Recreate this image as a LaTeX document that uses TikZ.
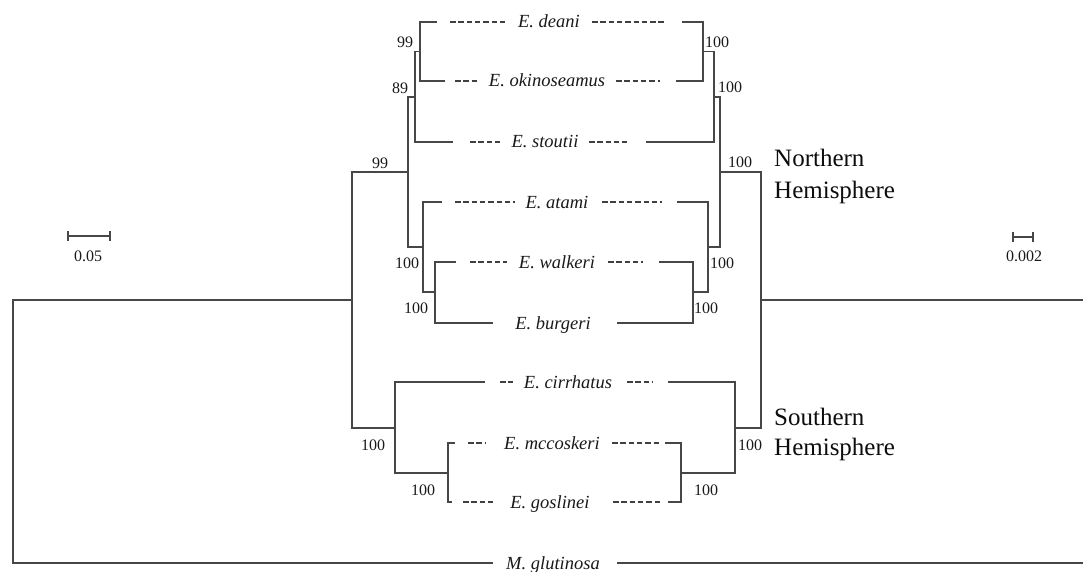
\documentclass[tikz,border=0pt]{standalone}
\usepackage{fontspec}
\setmainfont{Liberation Serif}
\newcommand\mkleaf[8]{% name, y, dash1 start, dash1 end, text x, dash2 start, dash2 end, text
  \node[sp] (t#1) at (#5,#2+6) {#8};
  \coordinate (#1a) at (#3,#2);
  \coordinate (#1b) at (#4,#2);
  \coordinate (#1c) at (#6,#2);
  \coordinate (#1d) at (#7,#2);
  \draw[dsh] (#1a) -- (#1b);
  \draw[dsh] (#1c) -- (#1d);
}
\begin{document}
\begin{tikzpicture}[x=1pt,y=-1pt,
  br/.style={draw=black!72, line width=1.3pt},
  dsh/.style={draw=black!75, line width=1.1pt, dash pattern=on 5.5pt off 2.8pt},
  sp/.style={font=\fontsize{18.5}{20}\selectfont\itshape, text=black!90, inner sep=0pt, anchor=base},
  bs/.style={font=\fontsize{16}{18}\selectfont, text=black!90, inner sep=0pt},
  hem/.style={font=\fontsize{25}{30}\selectfont, text=black!95, inner sep=0pt, anchor=base west}]
\useasboundingbox (0,0) rectangle (1083,572);

% ---------- leaf end coordinates (left tree) ----------
\coordinate (Ldea) at (437,22);
\coordinate (Lok)  at (445,81);
\coordinate (Lsto) at (453,142);
\coordinate (Lat)  at (442,202);
\coordinate (Lwal) at (456,262);
\coordinate (Lbur) at (493,323);
\coordinate (Lcir) at (485,382);
\coordinate (Lmcc) at (455,443);
\coordinate (Lgos) at (452,502);
\coordinate (Lglu) at (493,563);
% internal nodes (left)
\coordinate (LA)  at (420,51.5);
\coordinate (LB)  at (415,97);
\coordinate (LD)  at (435,292);
\coordinate (LC)  at (423,247);
\coordinate (LN)  at (408,172);
\coordinate (LS2) at (448,473);
\coordinate (LS)  at (395,428);
\coordinate (LR)  at (352,300);
\coordinate (L0)  at (13,431.5);

% ---------- leaf end coordinates (right tree) ----------
\coordinate (Rdea) at (682,22);
\coordinate (Rok)  at (676,81);
\coordinate (Rsto) at (646,142);
\coordinate (Rat)  at (677,202);
\coordinate (Rwal) at (659,262);
\coordinate (Rbur) at (617,323);
\coordinate (Rcir) at (668,382);
\coordinate (Rmcc) at (665,443);
\coordinate (Rgos) at (668,502);
\coordinate (Rglu) at (617,563);
\coordinate (Rglu2) at (1083,563);
% internal nodes (right)
\coordinate (RA)  at (703,51.5);
\coordinate (RB)  at (714,97);
\coordinate (RD)  at (693,292);
\coordinate (RC)  at (708,247);
\coordinate (RN)  at (720,172);
\coordinate (RS2) at (681,473);
\coordinate (RS)  at (735,428);
\coordinate (RR)  at (761,300);
\coordinate (Rout) at (1083,300);

% ---------- left tree ----------
\draw[br] (LA) |- (Ldea);  \draw[br] (LA) |- (Lok);
\draw[br] (LB) |- (LA);    \draw[br] (LB) |- (Lsto);
\draw[br] (LD) |- (Lwal);  \draw[br] (LD) |- (Lbur);
\draw[br] (LC) |- (Lat);   \draw[br] (LC) |- (LD);
\draw[br] (LN) |- (LB);    \draw[br] (LN) |- (LC);
\draw[br] (LS2) |- (Lmcc); \draw[br] (LS2) |- (Lgos);
\draw[br] (LS) |- (Lcir);  \draw[br] (LS) |- (LS2);
\draw[br] (LR) |- (LN);    \draw[br] (LR) |- (LS);
\draw[br] (L0) |- (LR);    \draw[br] (L0) |- (Lglu);

% ---------- right tree ----------
\draw[br] (RA) |- (Rdea);  \draw[br] (RA) |- (Rok);
\draw[br] (RB) |- (RA);    \draw[br] (RB) |- (Rsto);
\draw[br] (RD) |- (Rwal);  \draw[br] (RD) |- (Rbur);
\draw[br] (RC) |- (Rat);   \draw[br] (RC) |- (RD);
\draw[br] (RN) |- (RB);    \draw[br] (RN) |- (RC);
\draw[br] (RS2) |- (Rmcc); \draw[br] (RS2) |- (Rgos);
\draw[br] (RS) |- (Rcir);  \draw[br] (RS) |- (RS2);
\draw[br] (RR) |- (RN);    \draw[br] (RR) |- (RS);
\draw[br] (RR) -- (Rout);
\draw[br] (Rglu) -- (Rglu2);

% ---------- species labels with dashed leaders ----------
\mkleaf{dea}{22}{450}{507}{549}{592}{665}{E. deani}
\mkleaf{ok}{81}{455}{478}{547}{616}{660}{E. okinoseamus}
\mkleaf{sto}{142}{470}{500}{545}{589}{627}{E. stoutii}
\mkleaf{at}{202}{455}{515}{557}{602}{662}{E. atami}
\mkleaf{wal}{262}{470}{507}{557}{608}{643}{E. walkeri}
\node[sp] (tbur) at (553,329) {E. burgeri};
\mkleaf{cir}{382}{500}{513}{568}{627}{653}{E. cirrhatus}
\mkleaf{mcc}{443}{468}{485}{552}{612}{660}{E. mccoskeri}
\mkleaf{gos}{502}{463}{495}{550}{613}{662}{E. goslinei}
\node[sp] (tglu) at (553,569) {M. glutinosa};

% ---------- support values (left) ----------
\node[bs] (bLA)  at (405,42)  {99};
\node[bs] (bLB)  at (400,88)  {89};
\node[bs] (bLN)  at (380,163) {99};
\node[bs] (bLC)  at (407,263) {100};
\node[bs] (bLD)  at (416,308) {100};
\node[bs] (bLS)  at (373,445) {100};
\node[bs] (bLS2) at (423,490) {100};
% ---------- support values (right) ----------
\node[bs] (bRA)  at (717,42)  {100};
\node[bs] (bRB)  at (730,87)  {100};
\node[bs] (bRN)  at (740,162) {100};
\node[bs] (bRC)  at (722,263) {100};
\node[bs] (bRD)  at (706,308) {100};
\node[bs] (bRS)  at (750,445) {100};
\node[bs] (bRS2) at (706,490) {100};

% ---------- hemisphere labels ----------
\node[hem] (n1) at (774,167) {Northern};
\node[hem] (n2) at (774,198) {Hemisphere};
\node[hem] (s1) at (774,425) {Southern};
\node[hem] (s2) at (774,455) {Hemisphere};

% ---------- scale bars ----------
\coordinate (sb1a) at (68,236);  \coordinate (sb1b) at (110,236);
\draw[br, line width=1.2pt] (sb1a) -- (sb1b);
\draw[br, line width=1.2pt] ([yshift=5pt]sb1a) -- ([yshift=-5pt]sb1a);
\draw[br, line width=1.2pt] ([yshift=5pt]sb1b) -- ([yshift=-5pt]sb1b);
\node[bs] (sl1) at (88,256) {0.05};
\coordinate (sb2a) at (1013,237); \coordinate (sb2b) at (1033,237);
\draw[br, line width=1.2pt] (sb2a) -- (sb2b);
\draw[br, line width=1.2pt] ([yshift=5pt]sb2a) -- ([yshift=-5pt]sb2a);
\draw[br, line width=1.2pt] ([yshift=5pt]sb2b) -- ([yshift=-5pt]sb2b);
\node[bs] (sl2) at (1024,256.5) {0.002};
\end{tikzpicture}
\end{document}
